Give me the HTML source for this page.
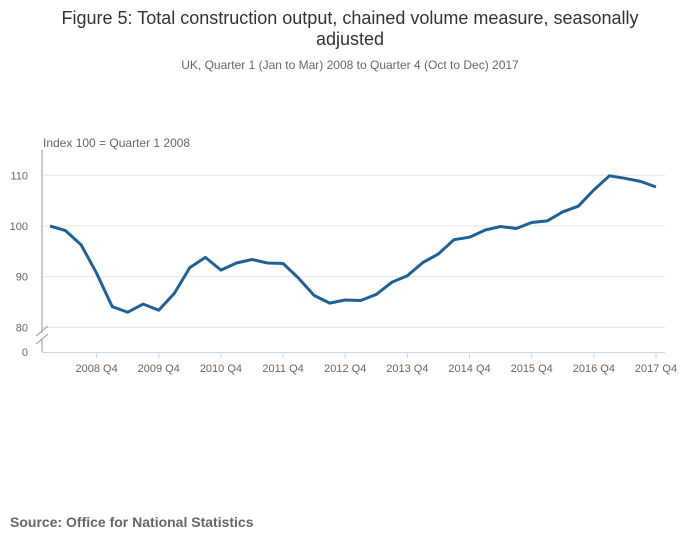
<!DOCTYPE html>
<html><head><meta charset="utf-8"><style>
body{margin:0;background:#fff;width:700px;height:549px;overflow:hidden;font-family:"Liberation Sans",sans-serif}
</style></head><body>
<svg id="chart" width="700" height="549" viewBox="0 0 700 549" xmlns="http://www.w3.org/2000/svg">
<text x="350" y="24" text-anchor="middle" font-size="18" fill="#333">Figure 5: Total construction output, chained volume measure, seasonally</text>
<text x="350" y="45" text-anchor="middle" font-size="18" fill="#333">adjusted</text>
<text x="350" y="69" text-anchor="middle" font-size="12" fill="#666">UK, Quarter 1 (Jan to Mar) 2008 to Quarter 4 (Oct to Dec) 2017</text>
<text x="43" y="147" font-size="12" fill="#666">Index 100 = Quarter 1 2008</text>
<text x="10" y="527" font-size="14" font-weight="bold" fill="#666">Source: Office for National Statistics</text>
<g id="grid"></g><g id="axes"></g><g id="series"></g>
</svg>
<script>
const values=[100,99.1,96.3,90.7,84.1,83.0,84.6,83.4,86.7,91.8,93.8,91.3,92.7,93.4,92.7,92.6,89.7,86.3,84.8,85.4,85.3,86.5,88.9,90.2,92.8,94.5,97.3,97.8,99.2,99.9,99.5,100.7,101.0,102.8,103.9,107.1,109.9,109.4,108.8,107.7];
const yTicks=[80,90,100,110];
const xTickLabels=["2008 Q4","2009 Q4","2010 Q4","2011 Q4","2012 Q4","2013 Q4","2014 Q4","2015 Q4","2016 Q4","2017 Q4"];
const xTickIndex=[3,7,11,15,19,23,27,31,35,39];
const NS="http://www.w3.org/2000/svg";
const x=i=>50+i*(606/39);
const y=v=>226-(v-100)*5.07;
function mk(t,a,p){const e=document.createElementNS(NS,t);for(const k in a)e.setAttribute(k,a[k]);p.appendChild(e);return e;}
const grid=document.getElementById('grid'),axes=document.getElementById('axes'),ser=document.getElementById('series');
yTicks.forEach(v=>{
  const l=mk('line',{x1:42,x2:665,y1:y(v),y2:y(v),stroke:'#e6e6e6','stroke-width':1},grid);
  
  
  const t=mk('text',{x:28,y:y(v)+4,'text-anchor':'end','font-size':11,fill:'#666'},axes);
  t.textContent=v;
  
  
});
const z=mk('text',{x:28,y:356,'text-anchor':'end','font-size':11,fill:'#666'},axes);z.textContent='0';


const ya=mk('path',{d:'M42 150 V333 M42 339 V352',stroke:'#999','stroke-width':1,fill:'none'},axes);


const br=mk('path',{d:'M36 336 L48 326 M36 344 L48 334',stroke:'#999','stroke-width':1},axes);


const xa=mk('line',{x1:42,x2:665,y1:352.5,y2:352.5,stroke:'#ccd6eb','stroke-width':1},axes);


xTickIndex.forEach((i,k)=>{
  const tk=mk('line',{x1:x(i),x2:x(i),y1:352,y2:358,stroke:'#ccd6eb'},axes);
  
  
  const t=mk('text',{x:x(i),y:372,'text-anchor':'middle','font-size':11,fill:'#666'},axes);
  t.textContent=xTickLabels[k];
  
  
});
const p=mk('path',{d:values.map((v,i)=>(i?'L':'M')+x(i).toFixed(1)+' '+y(v).toFixed(1)).join(' '),stroke:'#206095','stroke-width':3,fill:'none','stroke-linejoin':'round'},ser);


</script>
</body></html>
